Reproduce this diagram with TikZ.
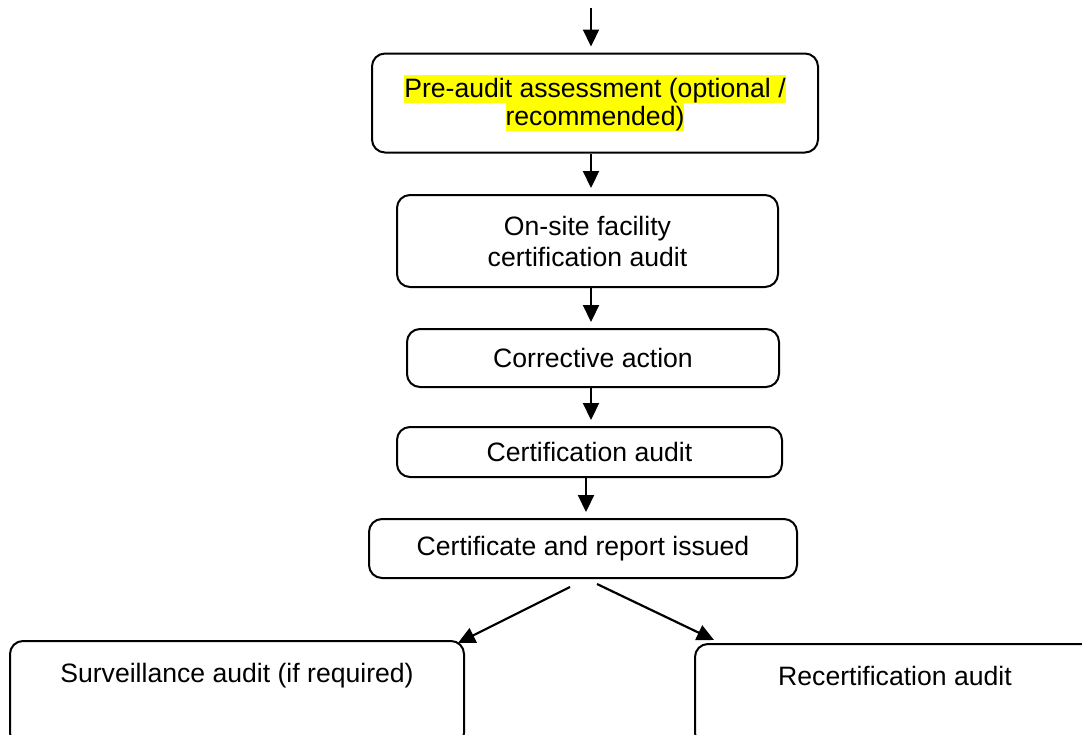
\documentclass[tikz,border=0pt]{standalone}
\usepackage{fontspec}
\setmainfont{Liberation Sans}
\usetikzlibrary{arrows.meta}
\definecolor{boxEdge}{HTML}{000000}
\definecolor{hlFill}{HTML}{FFFF00}
\newcommand{\FigBody}{\fontsize{13.3}{14.0}\selectfont}
\newcommand{\FigLoose}{\fontsize{13.3}{15.5}\selectfont}
\newcommand{\HiLite}[1]{{\setlength{\fboxsep}{0pt}\colorbox{hlFill}{\rule[-3pt]{0pt}{14pt}#1}}}

\begin{document}
\begin{tikzpicture}[
  x=0.5pt, y=-0.5pt,
  font=\FigBody,
  stage/.style = {draw=boxEdge, line width=1pt, rounded corners=6.5pt, align=center,
                  inner sep=0pt},
  flow/.style  = {-{Triangle[length=8.5pt, width=8pt]}, draw=boxEdge, line width=1.1pt,
                  shorten >=3pt},
]
\useasboundingbox (0,0) rectangle (1082,734);
\clip (0,0) rectangle (1082,734);

% ---------------------------------------------------------------- main column
\coordinate (entry) at (591,8);
\node[stage, minimum width=223pt, minimum height=49.5pt] (pre) at (595,103)
  {\HiLite{Pre-audit assessment (optional /}\\ \HiLite{recommended)}};
\node[stage, font=\FigLoose, minimum width=190.5pt, minimum height=46pt] (onsite) at (587.5,241)
  {On-site facility\\ certification audit};
\node[stage, minimum width=186pt, minimum height=29pt] (corr) at (593,358)
  {Corrective action};
\node[stage, minimum width=192.5pt, minimum height=25pt] (cert) at (589.5,452)
  {Certification audit};
\node[stage, minimum width=214pt, minimum height=29.5pt] (issued) at (583,548.5)
  {Certificate and report issued};

\draw[flow] (entry) -- (entry |- pre.north);
\draw[flow] (pre.south -| entry) -- (onsite.north -| entry);
\draw[flow] (onsite.south -| entry) -- (corr.north -| entry);
\draw[flow] (corr.south -| entry) -- (cert.north -| entry);
\draw[flow] ([xshift=-1.75pt]cert.south) -- ([xshift=-1.75pt]cert.south |- issued.north);

% ---------------------------------------------------------------- follow-up audits
\node[stage, anchor=north, minimum width=227pt, text height=20.5pt, text depth=32pt] (surv)
  at (237,640) {Surveillance audit (if required)};
\node[stage, anchor=north, minimum width=200pt, text height=20.5pt, text depth=30.5pt] (recert)
  at (895,643) {Recertification audit};

\draw[flow, shorten >=0pt] ([xshift=-6.5pt, yshift=-4pt]issued.south)
  -- ([xshift=-3.5pt, yshift=-1.5pt]surv.north east);
\draw[flow, shorten >=0pt] ([xshift=7pt, yshift=-2.5pt]issued.south)
  -- ([xshift=10pt, yshift=1.5pt]recert.north west);

\end{tikzpicture}
\end{document}
